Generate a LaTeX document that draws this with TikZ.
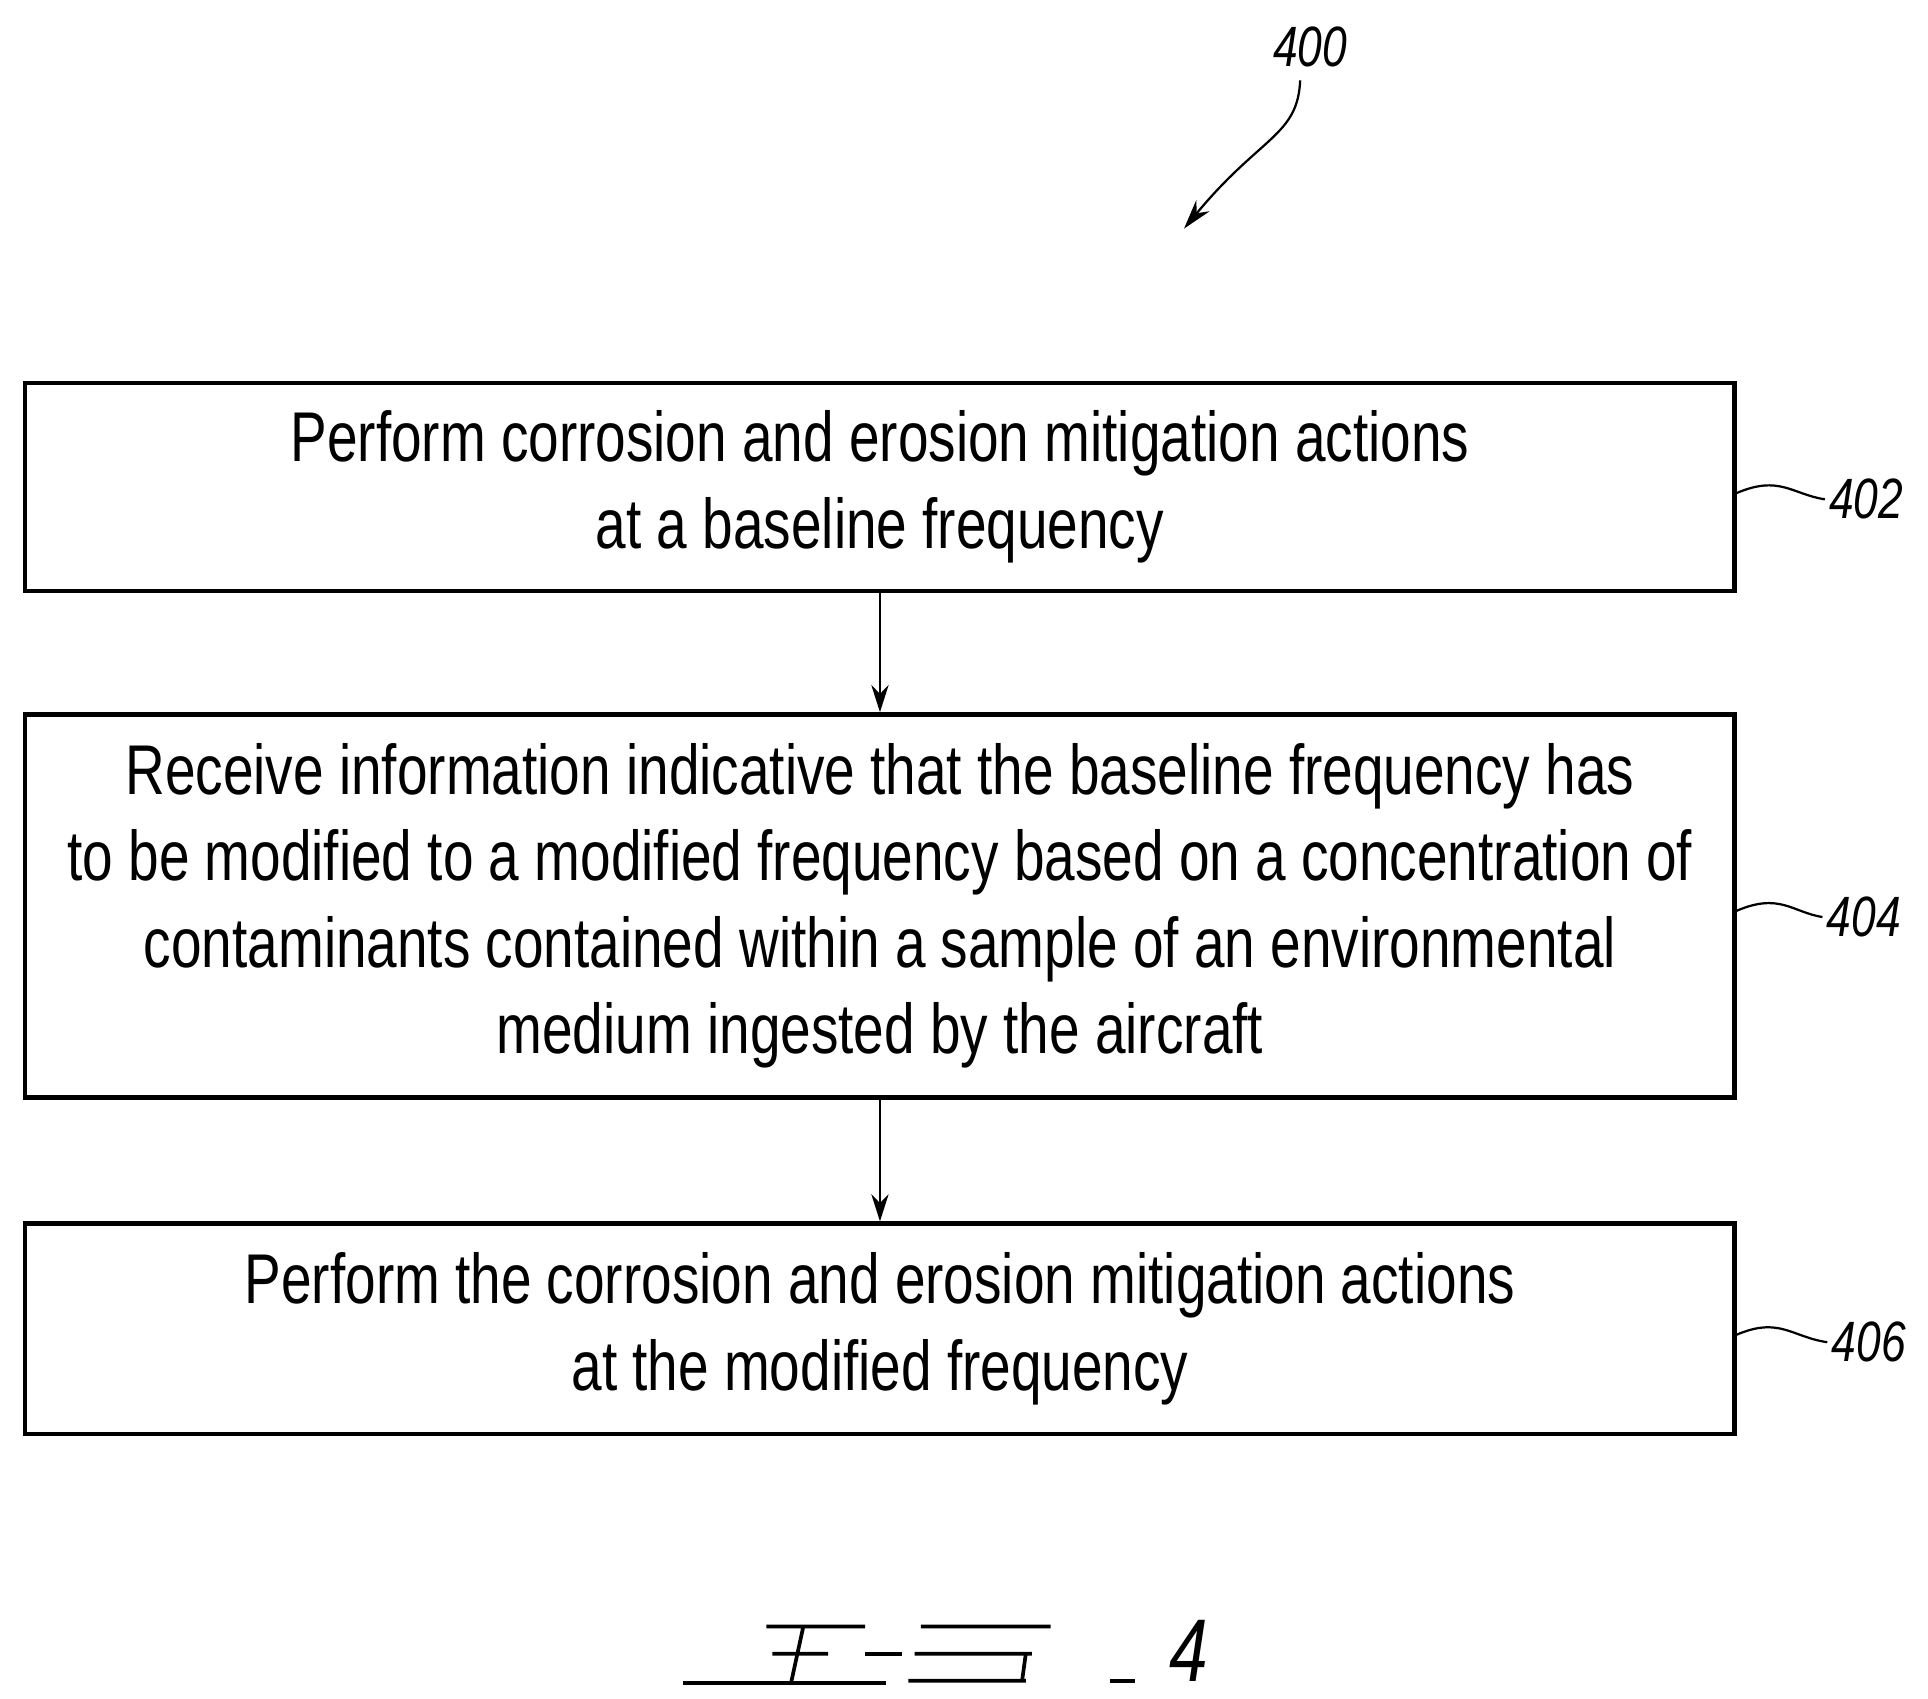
\documentclass[tikz,border=0pt]{standalone}
\usetikzlibrary{arrows.meta}
\usepackage{fontspec}
\setmainfont{Liberation Sans}[FakeStretch=0.78]
\begin{document}
\begin{tikzpicture}[x=1pt,y=-1pt,
  box/.style={draw,line width=3.5pt,minimum width=1383pt,align=center,font=\fontsize{57}{70}\selectfont},
  lbl/.style={font=\fontsize{46}{46}\selectfont\itshape},
  arr/.style={line width=1.8pt,-{Stealth[length=22pt,width=14pt]}}]
\useasboundingbox (0,0) rectangle (1560,1374);
\node[box,minimum height=168pt] (b1) at (712,394) {Perform corrosion and erosion mitigation actions\\at a baseline frequency};
\node[box,minimum height=310pt] (b2) at (712,733) {Receive information indicative that the baseline frequency has\\to be modified to a modified frequency based on a concentration of\\contaminants contained within a sample of an environmental\\medium ingested by the aircraft};
\node[box,minimum height=170pt] (b3) at (712,1075) {Perform the corrosion and erosion mitigation actions\\at the modified frequency};
\draw[arr] (b1) -- (b2);
\draw[arr] (b2) -- (b3);
\node[lbl] (l2) at (1510,404) {402};
\node[lbl] (l4) at (1508,742) {404};
\node[lbl] (l6) at (1512,1086) {406};
\draw[line width=1.8pt] (1405,399) .. controls (1440,384) and (1450,400) .. (l2.west);
\draw[line width=1.8pt] (1405,737) .. controls (1440,722) and (1450,738) .. (l4.west);
\draw[line width=1.8pt] (1405,1080) .. controls (1440,1065) and (1450,1082) .. (l6.west);
\node[lbl] (l0) at (1060,38) {400};
\coordinate (a0) at (958,185);
\draw[line width=1.8pt,-{Stealth[length=24pt,width=14pt]}] (1052,65) .. controls (1050,110) and (1020,110) .. (a0);
\node[font=\fontsize{72}{72}\selectfont\itshape] (f4) at (962,1336) {4};
\draw[line width=3pt] (553,1362) -- (717,1362);
\draw[line width=3pt] (620,1316) -- (700,1316) (650,1316) -- (640,1362) (625,1338) -- (670,1338);
\draw[line width=3pt] (700,1338) -- (730,1338);
\draw[line width=3pt] (745,1316) -- (850,1316) (740,1338) -- (835,1338) (735,1360) -- (830,1360) (830,1338) -- (827,1360);
\draw[line width=3pt] (898,1360) -- (918,1360);
\end{tikzpicture}
\end{document}
